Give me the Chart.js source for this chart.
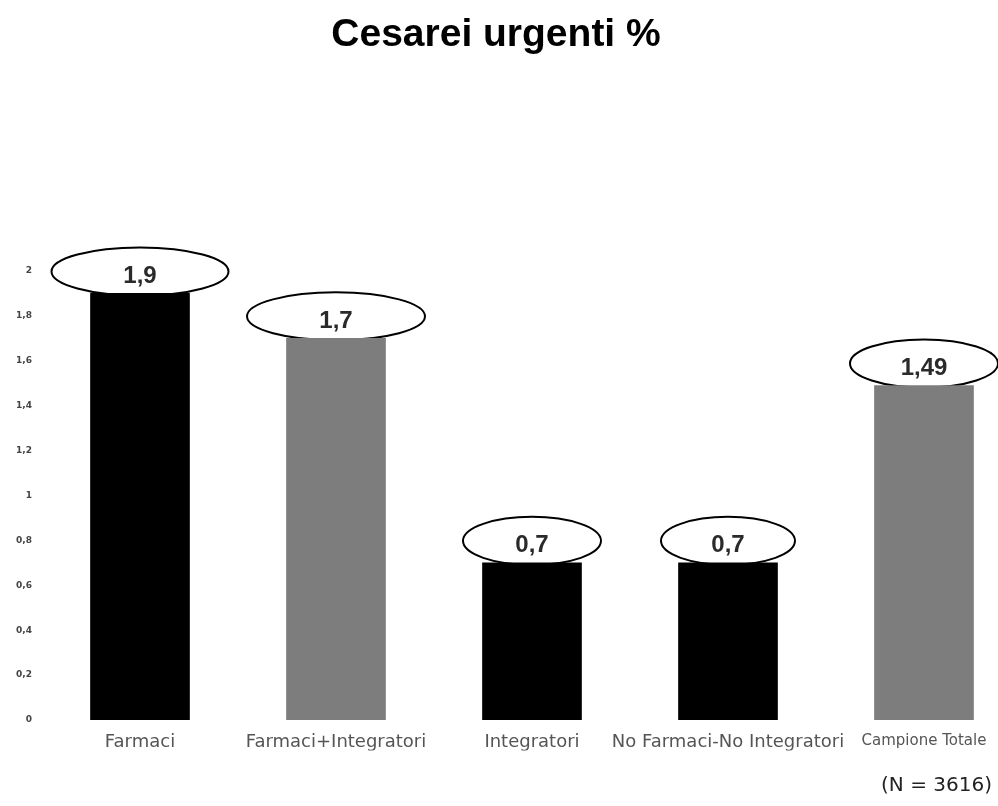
<!DOCTYPE html>
<html>
<head>
<meta charset="utf-8">
<script src="https://cdn.jsdelivr.net/npm/chart.js@4.4.1/dist/chart.umd.min.js"></script>
<style>
  html, body { margin: 0; padding: 0; background: #fff; overflow: hidden; }
  #wrap { width: 998px; height: 806px; }
</style>
</head>
<body>
<div id="wrap"><canvas id="c" width="998" height="806"></canvas></div>
<script>
// ---- data ----
const categories = ['Farmaci', 'Farmaci+Integratori', 'Integratori', 'No Farmaci-No Integratori', 'Campione Totale'];
const values = [1.9, 1.7, 0.7, 0.7, 1.49];
const valueLabels = ['1,9', '1,7', '0,7', '0,7', '1,49'];
const yTickValues = [0, 0.2, 0.4, 0.6, 0.8, 1, 1.2, 1.4, 1.6, 1.8, 2];
const titleText = 'Cesarei urgenti %';
const noteText = '(N = 3616)';

// ---- styling ----
const barColors = ['#000000', '#7d7d7d', '#000000', '#000000', '#7d7d7d'];
const ellipseW = [177, 178, 138, 134, 148];

const ellipseLabels = {
  id: 'ellipseLabels',
  beforeDatasetsDraw(chart) {
    const ctx = chart.ctx;
    const meta = chart.getDatasetMeta(0);
    meta.data.forEach((bar, i) => {
      const cx = bar.x, cy = bar.y - 22;
      ctx.save();
      ctx.beginPath();
      ctx.ellipse(cx, cy, ellipseW[i] / 2, 24, 0, 0, Math.PI * 2);
      ctx.fillStyle = '#ffffff';
      ctx.fill();
      ctx.lineWidth = 2;
      ctx.strokeStyle = '#000000';
      ctx.stroke();
      ctx.fillStyle = '#2a2a2a';
      ctx.font = 'bold 24px "Liberation Sans", Arial, sans-serif';
      ctx.textAlign = 'center';
      ctx.textBaseline = 'middle';
      ctx.fillText(valueLabels[i], cx, cy + 5);
      ctx.restore();
    });
  }
};

new Chart(document.getElementById('c'), {
  type: 'bar',
  data: {
    datasets: [{
      data: values.map((v, i) => ({ x: i, y: v })),
      backgroundColor: barColors,
      borderWidth: 0,
      barThickness: 99
    }]
  },
  options: {
    responsive: false,
    animation: false,
    devicePixelRatio: 1,
    layout: { padding: { right: 6 } },
    plugins: {
      legend: { display: false },
      tooltip: { enabled: false },
      title: {
        display: true,
        text: titleText,
        color: '#000',
        font: { family: '"Liberation Sans", Arial, sans-serif', size: 39, weight: 'bold', lineHeight: 1.2 },
        padding: { top: 11.6, bottom: 212.6 }
      },
      subtitle: {
        display: true,
        position: 'bottom',
        align: 'end',
        text: noteText,
        color: '#222',
        font: { family: '"DejaVu Sans", sans-serif', size: 20, weight: 'normal', lineHeight: 1.2 },
        padding: { top: 23.4, bottom: 8 }
      }
    },
    scales: {
      x: {
        type: 'linear',
        offset: false,
        min: -0.5,
        max: 4.347,
        grid: { display: false, drawTicks: false, offset: false },
        border: { display: false },
        afterBuildTicks: (axis) => { axis.ticks = categories.map((c, i) => ({ value: i })); },
        afterFit: (axis) => { axis.paddingLeft = 0; axis.paddingRight = 0; axis.height = 30.6; },
        ticks: {
          autoSkip: false,
          maxRotation: 0,
          minRotation: 0,
          padding: 12,
          color: '#555',
          font: (ctx) => ({ family: '"DejaVu Sans", sans-serif', size: ctx.index === 4 ? 15 : 18, lineHeight: 1.2 }),
          callback: (v) => categories[Math.round(v)]
        }
      },
      y: {
        min: 0,
        max: 2,
        grid: { display: false, drawTicks: false },
        border: { display: false },
        afterBuildTicks: (axis) => { axis.ticks = yTickValues.map(v => ({ value: v })); },
        afterFit: (axis) => { axis.width = 42; },
        ticks: {
          autoSkip: false,
          padding: 10,
          color: '#444',
          font: { family: '"DejaVu Sans", sans-serif', size: 9, weight: 'bold' },
          callback: (v) => String(Math.round(v * 10) / 10).replace('.', ',')
        }
      }
    }
  },
  plugins: [ellipseLabels]
});
</script>
</body>
</html>
